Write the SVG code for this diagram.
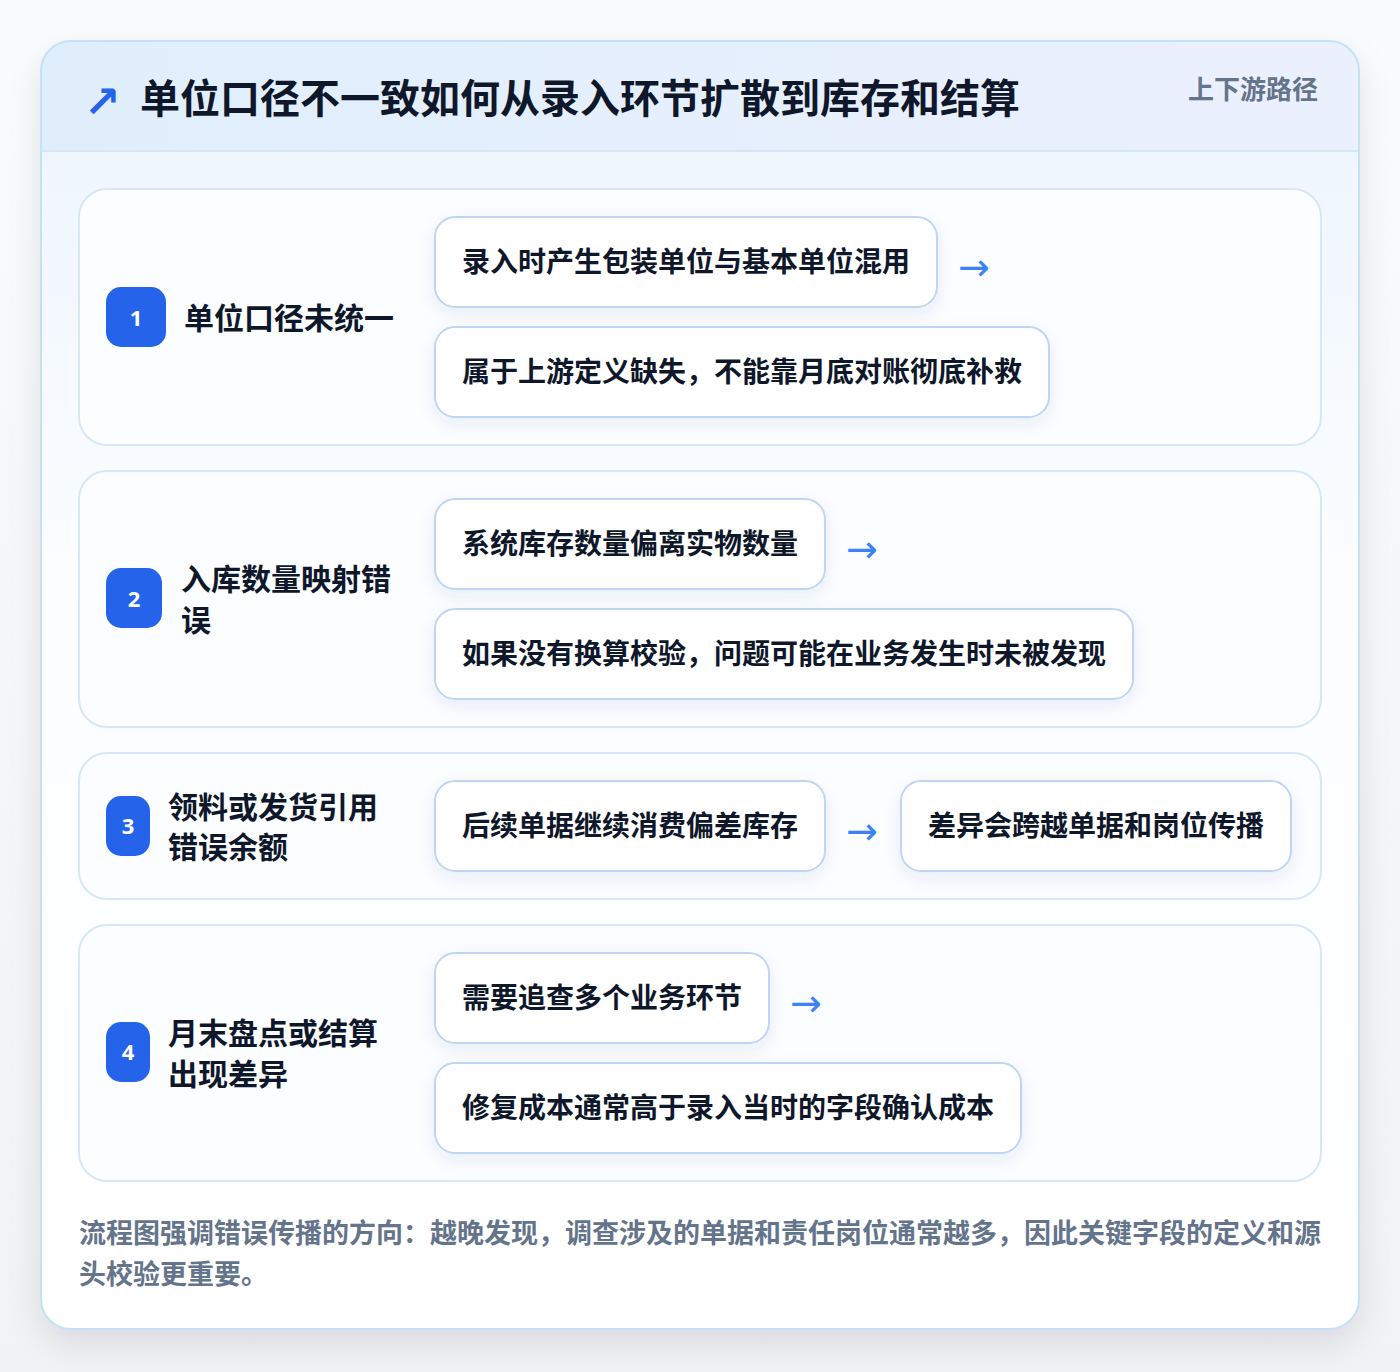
<svg xmlns="http://www.w3.org/2000/svg" width="1400" height="1372" viewBox="0 0 1400 1372">
<defs>
<linearGradient id="pageBg" x1="0" y1="0" x2="0" y2="1"><stop offset="0" stop-color="#fafbfc"/><stop offset="1" stop-color="#f1f2f4"/></linearGradient>
<linearGradient id="hdr" x1="0" y1="0" x2="1" y2="0"><stop offset="0" stop-color="#e0eefc"/><stop offset="1" stop-color="#ebf0fd"/></linearGradient>
<linearGradient id="body" x1="0" y1="0" x2="0" y2="1"><stop offset="0" stop-color="#eff6fe"/><stop offset="0.35" stop-color="#fbfdff"/><stop offset="1" stop-color="#ffffff"/></linearGradient>
<filter id="cardShadow" x="-10%" y="-10%" width="120%" height="120%"><feDropShadow dx="0" dy="14" stdDeviation="16" flood-color="#0f172a" flood-opacity="0.10"/></filter>
<filter id="boxShadow" x="-10%" y="-20%" width="120%" height="150%"><feDropShadow dx="0" dy="6" stdDeviation="8" flood-color="#1e3a8a" flood-opacity="0.08"/></filter>
<clipPath id="cardClip"><rect x="41" y="41" width="1318" height="1288" rx="30"/></clipPath>
</defs>
<style>
.cjk{font-family:"Noto Sans CJK SC","Noto Sans",sans-serif;font-weight:700}
.title{font-size:40px;fill:#0f172a}
.tag{font-size:26px;fill:#64748b}
.row{fill:#fbfdff;stroke:#d8e7f7;stroke-width:2}
.badge{fill:#2563eb}
.num{font-family:"Noto Sans","DejaVu Sans",sans-serif;font-weight:700;font-size:22px;fill:#ffffff;text-anchor:middle}
.lbl{font-size:30px;fill:#0f172a}
.box{fill:#ffffff;stroke:#bed6f4;stroke-width:2;filter:url(#boxShadow)}
.bt{font-size:28px;fill:#0f172a}
.arr{font-family:"DejaVu Sans",sans-serif;font-size:38px;fill:#3b82f6}
.foot{font-size:27px;fill:#64748b}
</style>
<rect width="1400" height="1372" fill="url(#pageBg)"/>
<g id="card">
<rect x="41" y="41" width="1318" height="1288" rx="30" fill="#ffffff" filter="url(#cardShadow)"/>
<g clip-path="url(#cardClip)">
<rect x="41" y="151" width="1318" height="1178" fill="url(#body)"/>
<rect x="41" y="41" width="1318" height="110" fill="url(#hdr)"/>
<line x1="41" y1="151" x2="1359" y2="151" stroke="#d6e6f7" stroke-width="2"/>
</g>
<rect x="41" y="41" width="1318" height="1288" rx="30" fill="none" stroke="#c4e2f6" stroke-width="2"/>
</g>
<g id="header">
<text x="84" y="117" font-family="DejaVu Sans,sans-serif" font-weight="700" font-size="44" fill="#2563eb">↗</text>
<text class="cjk title" x="140" y="113">单位口径不一致如何从录入环节扩散到库存和结算</text>
<text class="cjk tag" x="1318" y="99" text-anchor="end">上下游路径</text>
</g>
<g id="step1">
<rect class="row" x="79" y="189" width="1242" height="256" rx="28"/>
<rect class="badge" x="106" y="287" width="60" height="60" rx="15"/>
<text class="num" x="136" y="326">1</text>
<text class="cjk lbl" x="184" y="329">单位口径未统一</text>
</g>
<g id="step1a"><rect class="box" x="435" y="217" width="502" height="90" rx="20"/><text class="cjk bt" x="462" y="272">录入时产生包装单位与基本单位混用</text></g>
<g id="step1b"><rect class="box" x="435" y="327" width="614" height="90" rx="20"/><text class="cjk bt" x="462" y="382">属于上游定义缺失，不能靠月底对账彻底补救</text></g>
<g id="step2">
<rect class="row" x="79" y="471" width="1242" height="256" rx="28"/>
<rect class="badge" x="106" y="568" width="56" height="60" rx="15"/>
<text class="num" x="134" y="607">2</text>
<text class="cjk lbl" x="181" y="590">入库数量映射错</text>
<text class="cjk lbl" x="181" y="631">误</text>
</g>
<g id="step2a"><rect class="box" x="435" y="499" width="390" height="90" rx="20"/><text class="cjk bt" x="462" y="554">系统库存数量偏离实物数量</text></g>
<g id="step2b"><rect class="box" x="435" y="609" width="698" height="90" rx="20"/><text class="cjk bt" x="462" y="664">如果没有换算校验，问题可能在业务发生时未被发现</text></g>
<g id="step3">
<rect class="row" x="79" y="753" width="1242" height="146" rx="28"/>
<rect class="badge" x="106" y="796" width="44" height="60" rx="15"/>
<text class="num" x="128" y="834">3</text>
<text class="cjk lbl" x="168" y="818">领料或发货引用</text>
<text class="cjk lbl" x="168" y="858">错误余额</text>
</g>
<g id="step3a"><rect class="box" x="435" y="781" width="390" height="90" rx="20"/><text class="cjk bt" x="462" y="836">后续单据继续消费偏差库存</text></g>
<g id="step3b"><rect class="box" x="901" y="781" width="390" height="90" rx="20"/><text class="cjk bt" x="928" y="836">差异会跨越单据和岗位传播</text></g>
<g id="step4">
<rect class="row" x="79" y="925" width="1242" height="256" rx="28"/>
<rect class="badge" x="106" y="1022" width="44" height="60" rx="15"/>
<text class="num" x="128" y="1060">4</text>
<text class="cjk lbl" x="168" y="1044">月末盘点或结算</text>
<text class="cjk lbl" x="168" y="1085">出现差异</text>
</g>
<g id="step4a"><rect class="box" x="435" y="953" width="334" height="90" rx="20"/><text class="cjk bt" x="462" y="1008">需要追查多个业务环节</text></g>
<g id="step4b"><rect class="box" x="435" y="1063" width="586" height="90" rx="20"/><text class="cjk bt" x="462" y="1118">修复成本通常高于录入当时的字段确认成本</text></g>
<g id="connectors">
<text class="arr" x="958" y="280">→</text>
<text class="arr" x="846" y="562">→</text>
<text class="arr" x="846" y="844">→</text>
<text class="arr" x="790" y="1016">→</text>
</g>
<g id="footer">
<text class="cjk foot" x="79" y="1243">流程图强调错误传播的方向：越晚发现，调查涉及的单据和责任岗位通常越多，因此关键字段的定义和源</text>
<text class="cjk foot" x="79" y="1284">头校验更重要。</text>
</g>
</svg>
